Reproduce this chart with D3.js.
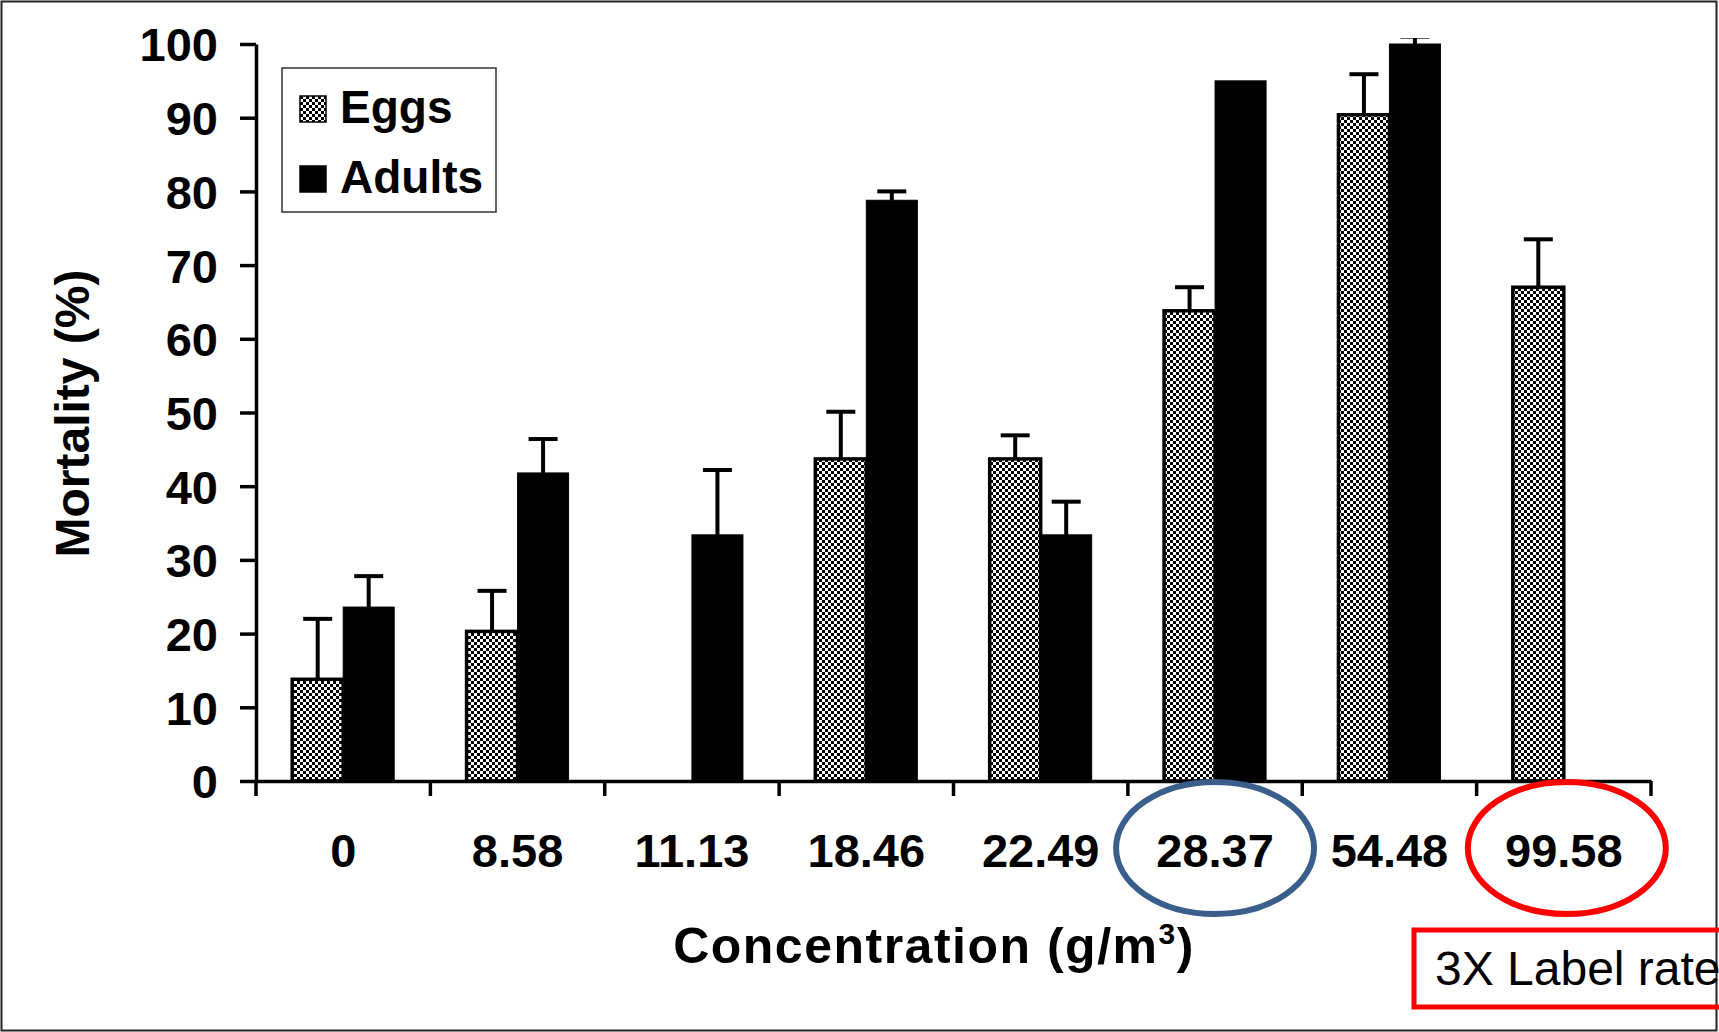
<!DOCTYPE html>
<html lang="en">
<head>
<meta charset="UTF-8"/>
<title>Mortality vs Concentration</title>
<script src="https://d3js.org/d3.v7.min.js"></script>
<style>
    body { margin: 0; background: #fff; }
    svg { display: block; font-family: "Liberation Sans", Arial, sans-serif; }
    .axis path, .axis line { stroke: #000; stroke-width: 3.5; }
    .axis text { font-size: 47px; font-weight: bold; fill: #000; }
</style>
</head>
<body>
<script>

    var w = 1719;
    var h = 1032;

    // data
    var categories = ["0", "8.58", "11.13", "18.46", "22.49", "28.37", "54.48", "99.58"];
    var series = ["Eggs", "Adults"];
    var eggs      = [13.8, 20.3, null, 43.7, 43.7, 63.8, 90.4, 67.0];
    var eggsErr   = [8.2, 5.5, null, 6.4, 3.2, 3.2, 5.5, 6.5];
    var adults    = [23.6, 41.8, 33.4, 78.8, 33.4, 95.0, 100, null];
    var adultsErr = [4.2, 4.6, 8.8, 1.2, 4.5, 0, 1, null];
    var yTicks = [0, 10, 20, 30, 40, 50, 60, 70, 80, 90, 100];

    var padL = 256, padR = 1651, padT = 44, padB = 781;

    var x0 = d3.scaleBand()
                .domain(categories)
                .range([padL, padR]);

    var bw = x0.bandwidth();
    var barW = 51;

    var x1 = d3.scaleBand()
                .domain(series)
                .range([bw / 2 - barW, bw / 2 + barW]);

    var yScale = d3.scaleLinear()
                .domain([0, 100])
                .range([padB, padT]);

    var svg = d3.select("body")
                .append("svg")
                .attr("width", w)
                .attr("height", h);

    var defs = svg.append("defs");
    var pat = defs.append("pattern")
                .attr("id", "checker")
                .attr("patternUnits", "userSpaceOnUse")
                .attr("width", 6)
                .attr("height", 6);
    pat.append("rect").attr("width", 6).attr("height", 6).attr("fill", "#fff");
    pat.append("rect").attr("width", 3).attr("height", 3).attr("fill", "#000");
    pat.append("rect").attr("x", 3).attr("y", 3).attr("width", 3).attr("height", 3).attr("fill", "#000");

    // error bars are clipped just above the plot area, like the original
    defs.append("clipPath")
        .attr("id", "plotclip")
        .append("rect")
        .attr("x", padL).attr("y", padT - 6)
        .attr("width", padR - padL).attr("height", padB - padT + 6);

    // outer frame
    svg.append("rect")
        .attr("x", 1.5).attr("y", 1.5)
        .attr("width", w - 4).attr("height", h - 3)
        .attr("fill", "none")
        .attr("stroke", "#222")
        .attr("stroke-width", 2);

    var rows = categories.map(function(c, i) {
        return [
            {cat: c, key: "Eggs", v: eggs[i], e: eggsErr[i]},
            {cat: c, key: "Adults", v: adults[i], e: adultsErr[i]}
        ];
    });
    var bars = d3.merge(rows).filter(function(d) { return d.v !== null; });

    svg.selectAll("rect.bar")
        .data(bars)
        .enter()
        .append("rect")
        .attr("class", "bar")
        .attr("x", function(d) { return x0(d.cat) + x1(d.key); })
        .attr("y", function(d) { return yScale(d.v); })
        .attr("width", x1.bandwidth())
        .attr("height", function(d) { return yScale(0) - yScale(d.v); })
        .attr("fill", function(d) { return d.key == "Eggs" ? "url(#checker)" : "#000"; })
        .attr("stroke", "#000")
        .attr("stroke-width", function(d) { return d.key == "Eggs" ? 3.5 : 1; });

    // error bars (upper only)
    var errs = bars.filter(function(d) { return d.e > 0; });
    var eg = svg.append("g")
        .attr("clip-path", "url(#plotclip)")
        .selectAll("g.err")
        .data(errs)
        .enter()
        .append("g")
        .attr("class", "err")
        .attr("transform", function(d) {
            return "translate(" + (x0(d.cat) + x1(d.key) + x1.bandwidth() / 2) + ",0)";
        });
    eg.append("line")
        .attr("x1", 0).attr("x2", 0)
        .attr("y1", function(d) { return yScale(d.v); })
        .attr("y2", function(d) { return yScale(d.v + d.e); })
        .attr("stroke", "#000").attr("stroke-width", 4);
    eg.append("line")
        .attr("x1", -14.5).attr("x2", 14.5)
        .attr("y1", function(d) { return yScale(d.v + d.e); })
        .attr("y2", function(d) { return yScale(d.v + d.e); })
        .attr("stroke", "#000").attr("stroke-width", 4);

    // y axis
    var yAxis = d3.axisLeft(yScale)
                .tickValues(yTicks)
                .tickSize(16)
                .tickSizeOuter(0)
                .tickPadding(22);
    svg.append("g")
        .attr("class", "axis")
        .attr("transform", "translate(" + padL + ",0)")
        .call(yAxis)
        .selectAll("text")
        .attr("dy", "0.36em");

    // x axis: labels centred, ticks on category boundaries
    var xAxis = d3.axisBottom(x0)
                .tickSize(0)
                .tickSizeOuter(0)
                .tickPadding(53);
    var gx = svg.append("g")
        .attr("class", "axis")
        .attr("transform", "translate(0," + padB + ")")
        .call(xAxis);
    gx.selectAll("text").attr("font-size", "50px");
    gx.selectAll("line.bound")
        .data(categories.concat(["end"]))
        .enter()
        .append("line")
        .attr("class", "bound")
        .attr("x1", function(d) { return d == "end" ? padR : x0(d); })
        .attr("x2", function(d) { return d == "end" ? padR : x0(d); })
        .attr("y1", 0)
        .attr("y2", 15);

    // axis titles
    svg.append("text")
        .attr("transform", "translate(89," + ((padT + padB) / 2 + 1) + ") rotate(-90)")
        .attr("text-anchor", "middle")
        .attr("font-size", "48px")
        .attr("font-weight", "bold")
        .text("Mortality (%)");

    var xt = svg.append("text")
        .attr("x", 934)
        .attr("y", 963)
        .attr("text-anchor", "middle")
        .attr("font-size", "50px")
        .attr("font-weight", "bold")
        .attr("letter-spacing", "1.5px")
        .text("Concentration (g/m");
    xt.append("tspan").attr("font-size", "30px").attr("dy", -19).text("3");
    xt.append("tspan").attr("dy", 19).text(")");

    // legend
    var lg = svg.append("g");
    lg.append("rect")
        .attr("x", 282).attr("y", 68)
        .attr("width", 214).attr("height", 144)
        .attr("fill", "#fff")
        .attr("stroke", "#333")
        .attr("stroke-width", 1.5);
    series.forEach(function(s, i) {
        var yy = 96 + i * 70;
        lg.append("rect")
            .attr("x", 300).attr("y", yy)
            .attr("width", 26).attr("height", 26)
            .attr("fill", s == "Eggs" ? "url(#checker)" : "#000")
            .attr("stroke", "#000").attr("stroke-width", 1.5);
        lg.append("text")
            .attr("x", 340).attr("y", yy + 27)
            .attr("font-size", "46px")
            .attr("font-weight", "bold")
            .text(s);
    });

    // annotations
    svg.append("ellipse")
        .attr("cx", x0("28.37") + bw / 2)
        .attr("cy", 848)
        .attr("rx", 99).attr("ry", 66)
        .attr("fill", "none")
        .attr("stroke", "#3a5e8c")
        .attr("stroke-width", 6);
    svg.append("ellipse")
        .attr("cx", x0("99.58") + bw / 2 + 3)
        .attr("cy", 848)
        .attr("rx", 99).attr("ry", 66)
        .attr("fill", "none")
        .attr("stroke", "#ff0000")
        .attr("stroke-width", 6);
    svg.append("rect")
        .attr("x", 1414).attr("y", 930)
        .attr("width", 330).attr("height", 77)
        .attr("fill", "none")
        .attr("stroke", "#ff0000")
        .attr("stroke-width", 5);
    svg.append("text")
        .attr("x", 1435).attr("y", 985)
        .attr("font-size", "48px")
        .text("3X Label rate");

</script>
</body>
</html>
